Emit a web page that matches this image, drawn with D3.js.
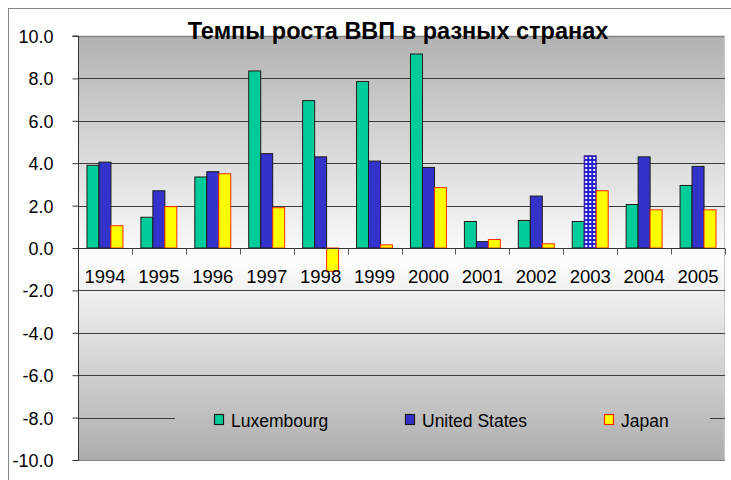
<!DOCTYPE html>
<html>
<head>
<meta charset="utf-8">
<script src="https://cdn.jsdelivr.net/npm/d3@7"></script>
<style>
  html, body { margin: 0; padding: 0; background: #fff; }
  svg { display: block; font-family: "Liberation Sans", Arial, sans-serif; }
</style>
</head>
<body>
<svg id="chart" width="731" height="480"></svg>
<script>
// GDP growth rates, % per year
const years = ["1994","1995","1996","1997","1998","1999","2000","2001","2002","2003","2004","2005"];
const luxembourg = [3.9, 1.45, 3.35, 8.35, 6.95, 7.85, 9.15, 1.25, 1.3, 1.25, 2.05, 2.95];
const unitedStates = [4.05, 2.7, 3.6, 4.45, 4.3, 4.1, 3.8, 0.3, 2.45, 4.35, 4.3, 3.85];
const japan = [1.05, 1.95, 3.5, 1.9, -1.1, 0.15, 2.85, 0.4, 0.2, 2.7, 1.8, 1.8];
const seriesNames = ["Luxembourg", "United States", "Japan"];
const yTicks = [10, 8, 6, 4, 2, 0, -2, -4, -6, -8, -10];
const chartTitle = "Темпы роста ВВП в разных странах";

const series = [
  { name: seriesNames[0], values: luxembourg, fill: "#00cc99", stroke: "#1a1a1a" },
  { name: seriesNames[1], values: unitedStates, fill: "#3333cc", stroke: "#1a1a1a" },
  { name: seriesNames[2], values: japan, fill: "#ffff00", stroke: "#ff2a00" }
];

const svg = d3.select("#chart");
const plot = { left: 78, right: 725, top: 36, bottom: 460 };

const x = d3.scaleBand().domain(years).range([plot.left, plot.right]);
const y = d3.scaleLinear().domain([-10, 10]).range([plot.bottom, plot.top]);

const defs = svg.append("defs");
const grad = defs.append("linearGradient")
  .attr("id", "bg").attr("gradientUnits", "userSpaceOnUse")
  .attr("x1", 0).attr("x2", 0).attr("y1", plot.top).attr("y2", plot.bottom);
grad.append("stop").attr("offset", 0).attr("stop-color", "#b2b2b2");
grad.append("stop").attr("offset", 0.53).attr("stop-color", "#fdfdfd");
grad.append("stop").attr("offset", 1).attr("stop-color", "#adadad");

// dotted fill used for the highlighted 2003 US bar
const pat = defs.append("pattern")
  .attr("id", "dots").attr("patternUnits", "userSpaceOnUse")
  .attr("width", 4).attr("height", 4);
pat.append("rect").attr("width", 4).attr("height", 4).attr("fill", "#2222cc");
pat.append("rect").attr("x", 1).attr("y", 1).attr("width", 2).attr("height", 2).attr("fill", "#ffffff");

// outer frame
svg.append("rect")
  .attr("x", 8.5).attr("y", 8.5).attr("width", 740).attr("height", 490)
  .attr("fill", "none").attr("stroke", "#888").attr("stroke-width", 1);

// plot background
svg.append("rect")
  .attr("x", plot.left).attr("y", plot.top)
  .attr("width", plot.right - plot.left).attr("height", plot.bottom - plot.top)
  .attr("fill", "url(#bg)");
svg.append("line")
  .attr("x1", plot.left).attr("x2", plot.right)
  .attr("y1", plot.top + 0.5).attr("y2", plot.top + 0.5)
  .attr("stroke", "#858585").attr("stroke-width", 1.5);
svg.append("line")
  .attr("x1", plot.right - 0.5).attr("x2", plot.right - 0.5)
  .attr("y1", plot.top).attr("y2", plot.bottom)
  .attr("stroke", "#c8c8c8");
svg.append("line")
  .attr("x1", plot.left).attr("x2", plot.right)
  .attr("y1", plot.bottom + 0.5).attr("y2", plot.bottom + 0.5)
  .attr("stroke", "#808080");

// horizontal gridlines
svg.append("g").selectAll("line")
  .data(yTicks.filter(d => d !== 0 && d !== -10 && d !== 10))
  .join("line")
  .attr("x1", plot.left).attr("x2", plot.right)
  .attr("y1", d => Math.round(y(d)) + 0.5).attr("y2", d => Math.round(y(d)) + 0.5)
  .attr("stroke", "#3c3c3c").attr("stroke-width", 1);

// value axis
const yAxis = svg.append("g")
  .attr("transform", `translate(${plot.left + 0.5},0)`)
  .call(d3.axisLeft(y).tickValues(yTicks).tickFormat(d3.format(".1f")).tickSize(6).tickPadding(19));
yAxis.select(".domain").attr("stroke", "#333").attr("d", `M-6,${y(10)}H0V${y(-10)}`);
yAxis.selectAll(".tick line").attr("stroke", "#333");
yAxis.selectAll(".tick text")
  .attr("font-size", 18).attr("fill", "#000")
  .attr("font-family", "'Liberation Sans', Arial, sans-serif")
  .attr("dy", "0.36em")
  .text(d => d3.format(".1f")(d).replace("−", "-"));

// bars
const bw = x.bandwidth() / 4.5;
const groups = svg.append("g").selectAll("g")
  .data(years).join("g")
  .attr("transform", d => `translate(${x(d) + bw * 0.75},0)`);

series.forEach((s, si) => {
  groups.append("rect")
    .attr("x", si * bw)
    .attr("y", (d, i) => y(Math.max(0, s.values[i])))
    .attr("width", bw)
    .attr("height", (d, i) => Math.abs(y(s.values[i]) - y(0)))
    .attr("fill", d => (si === 1 && d === "2003") ? "url(#dots)" : s.fill)
    .attr("stroke", d => (si === 1 && d === "2003") ? "#3a1aa0" : s.stroke)
    .attr("stroke-width", 1);
});

// category axis on the zero line
const xAxis = svg.append("g")
  .attr("transform", `translate(0,${Math.round(y(0)) + 0.5})`);
xAxis.append("line")
  .attr("x1", plot.left).attr("x2", plot.right)
  .attr("stroke", "#333").attr("stroke-width", 1.2);
xAxis.selectAll("line.tk")
  .data(years.slice(1).concat(["end"])).join("line")
  .attr("class", "tk")
  .attr("x1", (d, i) => Math.round(plot.left + x.step() * (i + 1)) + 0.5)
  .attr("x2", (d, i) => Math.round(plot.left + x.step() * (i + 1)) + 0.5)
  .attr("y1", 0).attr("y2", 6)
  .attr("stroke", "#555");
xAxis.selectAll("text")
  .data(years).join("text")
  .attr("x", d => x(d) + x.bandwidth() / 2)
  .attr("y", 34)
  .attr("text-anchor", "middle")
  .attr("font-size", 18.5)
  .attr("fill", "#000")
  .text(d => d);

// legend, drawn over the -8 gridline
const legend = svg.append("g");
legend.append("rect")
  .attr("x", 175).attr("y", 404).attr("width", 535).attr("height", 30)
  .attr("fill", "url(#bg)");
const legendX = [214, 405, 604];
series.forEach((s, i) => {
  legend.append("rect")
    .attr("x", legendX[i] + 0.5).attr("y", 414.5)
    .attr("width", 9).attr("height", 10)
    .attr("fill", s.fill).attr("stroke", s.stroke).attr("stroke-width", 1.2);
  legend.append("text")
    .attr("x", legendX[i] + 17).attr("y", 427)
    .attr("font-size", 17.5).attr("fill", "#000")
    .text(s.name);
});

// title
svg.append("text")
  .attr("x", 398).attr("y", 39)
  .attr("text-anchor", "middle")
  .attr("font-size", 23.5).attr("font-weight", "bold")
  .attr("fill", "#000")
  .text(chartTitle);
</script>
</body>
</html>
